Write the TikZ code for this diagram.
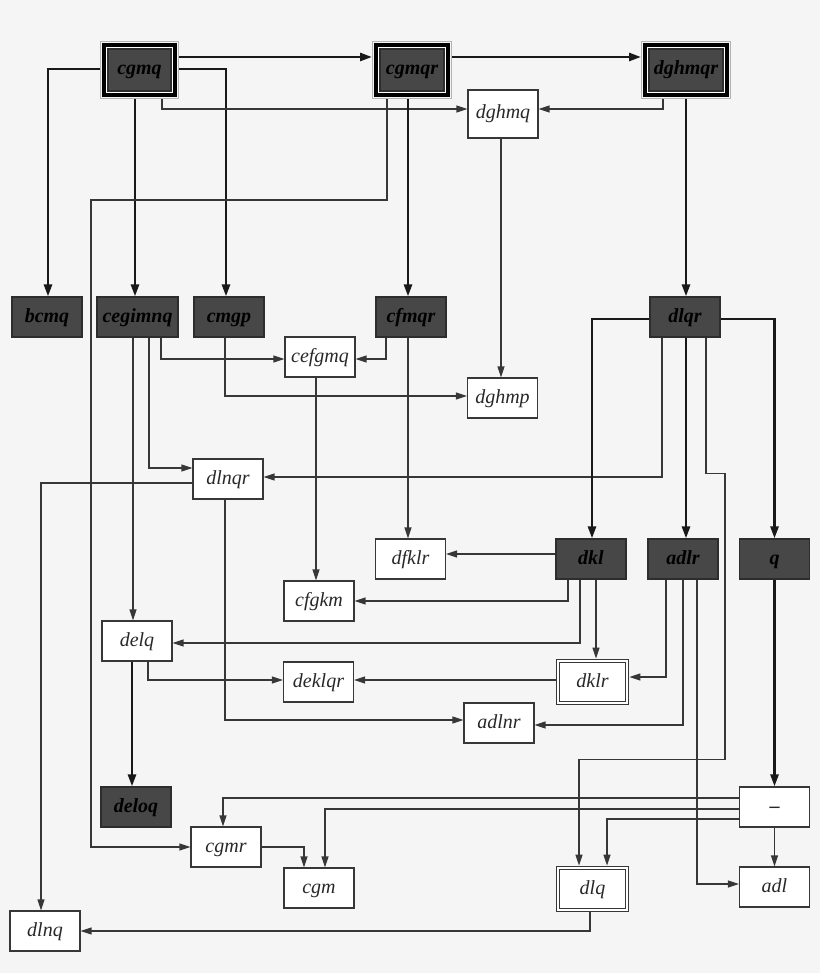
\documentclass[tikz,border=0pt]{standalone}
\usepackage{fontspec}
\setmainfont{Liberation Serif}
\usetikzlibrary{arrows.meta}
\definecolor{bgcol}{RGB}{245,245,245}
\definecolor{darkcol}{RGB}{71,71,71}
\definecolor{edgecol}{RGB}{45,45,45}
\definecolor{linecol}{RGB}{55,55,55}
\definecolor{txtcol}{RGB}{40,40,40}
\newcommand\lblsize{\fontsize{20}{24}\selectfont}
\tikzset{
  box/.style={rectangle, minimum width=70, minimum height=40, inner sep=0pt, line width=1.2,
    text height=13, text depth=3},
  lite/.style={box, draw=linecol, fill=white, text=txtcol, font=\lblsize\itshape},
  dark/.style={box, draw=edgecol, fill=darkcol, text=black, font=\lblsize\bfseries\itshape},
  root/.style={dark, minimum height=42, outer sep=8,
    preaction={draw=gray!60, line width=16.6},
    preaction={draw=bgcol, line width=14.4},
    preaction={draw=black, line width=12.6},
    preaction={draw=white, line width=4}},
  twin/.style={lite, double=white, double distance=1.8, outer sep=2.4, minimum width=69, minimum height=42},
  strong/.style={draw=black!90, line width=2.6, -{Triangle[length=12,width=8]}},
  weak/.style={draw=linecol, line width=1.3, -{Triangle[length=11,width=7]}},
}
\begin{document}
\begin{tikzpicture}[x=1pt, y=-1pt]
  \fill[bgcol] (0,0) rectangle (820,973);
  % top row
  \node[root, minimum width=63] (cgmq) at (139.5,70) {cgmq};
  \node[root, minimum width=64] (cgmqr) at (412,70) {cgmqr};
  \node[root, minimum width=74] (dghmqr) at (686,70) {dghmqr};
  \node[lite, minimum height=48] (dghmq) at (503,114) {dghmq};
  % second row
  \node[dark] (bcmq) at (47,317) {bcmq};
  \node[dark, minimum width=81] (cegimnq) at (137.5,317) {cegimnq};
  \node[dark] (cmgp) at (229,317) {cmgp};
  \node[dark] (cfmqr) at (411,317) {cfmqr};
  \node[dark] (dlqr) at (685,317) {dlqr};
  \node[lite] (cefgmq) at (320,357) {cefgmq};
  \node[lite] (dghmp) at (502.5,398) {dghmp};
  \node[lite] (dlnqr) at (228,479) {dlnqr};
  % third row
  \node[lite] (dfklr) at (410.5,559) {dfklr};
  \node[dark] (dkl) at (591,559) {dkl};
  \node[dark] (adlr) at (683,559) {adlr};
  \node[dark] (q) at (774.5,559) {q};
  \node[lite] (cfgkm) at (319,601) {cfgkm};
  \node[lite] (delq) at (137,641) {delq};
  \node[lite] (deklqr) at (318.5,682) {deklqr};
  \node[twin] (dklr) at (592.5,682) {dklr};
  \node[lite] (adlnr) at (499,723) {adlnr};
  % bottom rows
  \node[dark] (deloq) at (136,807) {deloq};
  \node[lite, font=\lblsize\bfseries] (minus) at (774.5,807) {\textendash};
  \node[lite] (cgmr) at (226,847) {cgmr};
  \node[lite] (cgm) at (319,888) {cgm};
  \node[twin] (dlq) at (592.5,889) {dlq};
  \node[lite] (adl) at (774.5,887) {adl};
  \node[lite] (dlnq) at (45,931) {dlnq};

  % edges from the top
  \draw[strong] ([yshift=13]cgmq.east) -- ([yshift=13]cgmqr.west);
  \draw[strong] ([yshift=13]cgmqr.east) -- ([yshift=13]dghmqr.west);
  \draw[strong] ([yshift=1]cgmq.west) -| ([xshift=1]bcmq.north);
  \draw[strong] ([xshift=-4.5]cgmq.south) -- ([xshift=-2.5]cegimnq.north);
  \draw[strong] ([yshift=1]cgmq.east) -| ([xshift=-3]cmgp.north);
  \draw[weak] ([xshift=22.5]cgmq.south) |- ([yshift=5]dghmq.west);
  \draw[strong] ([xshift=-4]cgmqr.south) -- ([xshift=-3]cfmqr.north);
  \draw[weak] ([xshift=-25]cgmqr.south) |- ++(-296,101) |- (cgmr.west);
  \draw[weak] ([xshift=-23]dghmqr.south) |- ([yshift=5]dghmq.east);
  \draw[strong] (dghmqr.south) -- (dghmqr.south |- dlqr.north);
  \draw[weak] ([xshift=-2]dghmq.south) -- ([xshift=-2]dghmq.south |- dghmp.north);
  % second row
  \draw[weak] ([xshift=23.5]cegimnq.south) |- ([yshift=-2]cefgmq.west);
  \draw[weak] ([xshift=11.5]cegimnq.south) |- ([yshift=11]dlnqr.west);
  \draw[weak] ([xshift=-4.5]cegimnq.south) -- ([xshift=-4.5]cegimnq.south |- delq.north);
  \draw[weak] ([xshift=-4]cmgp.south) |- ([yshift=2]dghmp.west);
  \draw[weak] ([xshift=-25]cfmqr.south) |- ([yshift=-2]cefgmq.east);
  \draw[weak] ([xshift=-3]cfmqr.south) -- ([xshift=-3]cfmqr.south |- dfklr.north);
  \draw[weak] ([xshift=-4]cefgmq.south) -- ([xshift=-4]cefgmq.south |- cfgkm.north);
  \draw[weak] ([xshift=-23]dlqr.south) |- ([yshift=2]dlnqr.east);
  \draw[strong] ([yshift=-2]dlqr.west) -| ([xshift=1]dkl.north);
  \draw[strong] ([xshift=1]dlqr.south) -- ([xshift=1]dlqr.south |- adlr.north);
  \draw[strong] ([yshift=-2]dlqr.east) -| (q.north);
  \draw[weak] ([xshift=21]dlqr.south) |- ++(19,136) |- ++(-146,286) -- ([xshift=-13.5]dlq.north);
  \draw[weak] ([yshift=-4]dlnqr.west) -| ([xshift=-4]dlnq.north);
  \draw[weak] ([xshift=-3]dlnqr.south) |- ([yshift=3]adlnr.west);
  % third row
  \draw[weak] ([yshift=5]dkl.west) -- ([yshift=5]dfklr.east);
  \draw[weak] ([xshift=-23]dkl.south) |- (cfgkm.east);
  \draw[weak] ([xshift=-11]dkl.south) |- ([yshift=-2]delq.east);
  \draw[weak] ([xshift=5]dkl.south) -- ([xshift=5]dkl.south |- dklr.north);
  \draw[weak] ([xshift=-17]adlr.south) |- ([yshift=5]dklr.east);
  \draw[weak] (adlr.south) |- ([yshift=-2]adlnr.east);
  \draw[weak] ([xshift=14]adlr.south) |- ([yshift=3]adl.west);
  \draw[weak] ([yshift=2]dklr.west) -- ([yshift=2]deklqr.east);
  \draw[weak] ([xshift=11]delq.south) |- ([yshift=2]deklqr.west);
  \draw[strong] ([xshift=-5]delq.south) -- ([xshift=-5]delq.south |- deloq.north);
  \draw[strong] (q.south) -- (minus.north);
  % bottom
  \draw[weak] ([yshift=9]minus.west) -| ([xshift=-3]cgmr.north);
  \draw[weak] ([yshift=-2]minus.west) -| ([xshift=6]cgm.north);
  \draw[weak] ([yshift=-12]minus.west) -| ([xshift=14.5]dlq.north);
  \draw[weak] (minus.south) -- (adl.north);
  \draw[weak] (cgmr.east) -| ([xshift=-15]cgm.north);
  \draw[weak] ([xshift=-2.5]dlq.south) |- (dlnq.east);
\end{tikzpicture}
\end{document}
